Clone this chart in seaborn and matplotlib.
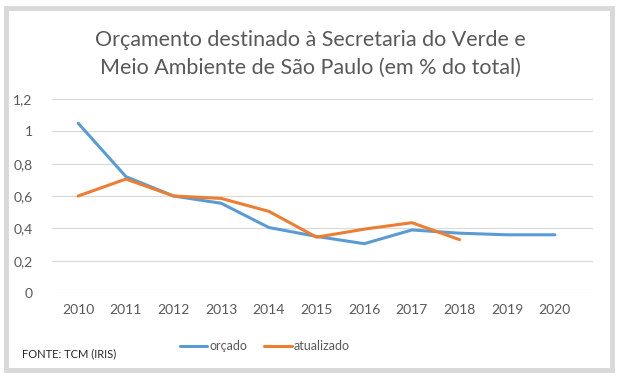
import matplotlib.pyplot as plt
import seaborn as sns
import pandas as pd
from matplotlib.patches import Rectangle

anos = [2010, 2011, 2012, 2013, 2014, 2015, 2016, 2017, 2018, 2019, 2020]
orcado = [1.05, 0.72, 0.60, 0.555, 0.405, 0.35, 0.305, 0.39, 0.37, 0.36, 0.36]
anos_atualizado = [2010, 2011, 2012, 2013, 2014, 2015, 2016, 2017, 2018]
atualizado = [0.60, 0.705, 0.60, 0.585, 0.505, 0.345, 0.395, 0.435, 0.33]

df = pd.concat([
    pd.DataFrame({"ano": anos, "valor": orcado, "serie": "orçado"}),
    pd.DataFrame({"ano": anos_atualizado, "valor": atualizado, "serie": "atualizado"}),
])

sns.set_style("white")
plt.rcParams["font.family"] = ["Lato", "DejaVu Sans"]

fig = plt.figure(figsize=(6.18, 3.80), dpi=100)
ax = fig.add_axes([52 / 618, 1 - 293 / 380, (593 - 52) / 618, (293 - 99) / 380])

sns.lineplot(data=df, x="ano", y="valor", hue="serie", ax=ax,
             palette={"orçado": "#5B9BD5", "atualizado": "#ED7D31"},
             linewidth=2.2, legend=False)

# Excel-like styling
ax.set_xlim(2009.45, 2020.8)
ax.set_ylim(0, 1.2)
ax.set_yticks([0, 0.2, 0.4, 0.6, 0.8, 1.0, 1.2])
ax.set_yticklabels(["0", "0,2", "0,4", "0,6", "0,8", "1", "1,2"])
ax.set_xticks(anos)
ax.set_xticklabels([str(a) for a in anos])
ax.yaxis.grid(True, color="#d9d9d9", linewidth=0.8)
ax.set_axisbelow(True)
for s in ax.spines.values():
    s.set_visible(False)
ax.tick_params(axis="both", length=0, colors="#595959", labelsize=10)
ax.tick_params(axis="y", pad=14)
ax.tick_params(axis="x", pad=8)
ax.set_xlabel("")
ax.set_ylabel("")

fig.text(0.502, 1 - 40 / 380, "Orçamento destinado à Secretaria do Verde e",
         ha="center", va="center", fontsize=15.5, color="#595959")
fig.text(0.502, 1 - 68 / 380, "Meio Ambiente de São Paulo (em % do total)",
         ha="center", va="center", fontsize=15.5, color="#595959")

# legend
h1, = ax.plot([], [], color="#5B9BD5", linewidth=2.2, label="orçado")
h2, = ax.plot([], [], color="#ED7D31", linewidth=2.2, label="atualizado")
fig.legend(handles=[h1, h2], loc="center", bbox_to_anchor=(265 / 618, 1 - 346 / 380),
           ncol=2, frameon=False, fontsize=9, labelcolor="#595959",
           handlelength=2.2, handletextpad=0.2, columnspacing=1.3)

fig.text(22 / 618, 1 - 354 / 380, "FONTE: TCM (IRIS)", ha="left", va="center",
         fontsize=8, color="#262626")

fig.patches.append(Rectangle((6 / 618, 1 - 370 / 380), 606 / 618, 362 / 380,
                             transform=fig.transFigure, fill=False,
                             edgecolor="#d9d9d9", linewidth=3.5))

fig.savefig("out.png", dpi=100, facecolor="white")
